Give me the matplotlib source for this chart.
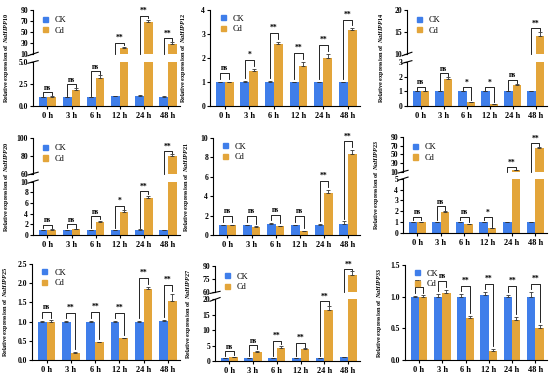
import numpy as np
import matplotlib.pyplot as plt
from matplotlib.patches import Patch

plt.rcParams["font.family"] = ["Liberation Serif", "DejaVu Serif"]
plt.rcParams["font.weight"] = "bold"
plt.rcParams["mathtext.fontset"] = "custom"
plt.rcParams["mathtext.it"] = "Liberation Serif:italic:bold"
plt.rcParams["mathtext.rm"] = "Liberation Serif:bold"

CK_COLOR = "#3F7EEA"
CD_COLOR = "#E3A53A"

times = ["0 h", "3 h", "6 h", "12 h", "24 h", "48 h"]

# ---- data ----
ck_10 = [1.0, 1.0, 1.0, 1.1, 1.15, 1.05]
ck_10_err = [0.03, 0.03, 0.03, 0.04, 0.08, 0.06]
cd_10 = [1.05, 1.8, 3.2, 21, 69, 29]
cd_10_err = [0.05, 0.2, 0.3, 2.5, 3.5, 2.5]
sig_10 = ["ns", "ns", "ns", "**", "**", "**"]

ck_12 = [1.0, 1.02, 1.0, 1.0, 1.0, 1.0]
ck_12_err = [0.02, 0.04, 0.03, 0.02, 0.02, 0.02]
cd_12 = [1.0, 1.45, 2.58, 1.68, 2.0, 3.17]
cd_12_err = [0.02, 0.1, 0.1, 0.16, 0.18, 0.07]
sig_12 = ["ns", "*", "**", "**", "**", "**"]

ck_14 = [1.0, 1.0, 1.0, 1.0, 1.0, 1.02]
ck_14_err = [0.02, 0.02, 0.03, 0.02, 0.02, 0.03]
cd_14 = [1.0, 1.85, 0.28, 0.15, 1.45, 14.2]
cd_14_err = [0.03, 0.12, 0.02, 0.02, 0.06, 0.8]
sig_14 = ["ns", "ns", "*", "*", "ns", "**"]

ck_20 = [0.95, 0.95, 0.95, 0.95, 1.0, 0.95]
ck_20_err = [0.03, 0.03, 0.03, 0.03, 0.03, 0.03]
cd_20 = [1.0, 1.05, 2.5, 4.3, 7.0, 80]
cd_20_err = [0.05, 0.05, 0.15, 0.3, 0.35, 1.5]
sig_20 = ["ns", "ns", "ns", "*", "**", "**"]

ck_21 = [1.0, 1.0, 1.1, 1.0, 1.05, 1.15]
ck_21_err = [0.03, 0.03, 0.1, 0.04, 0.06, 0.25]
cd_21 = [1.0, 0.85, 0.9, 0.4, 4.3, 8.4]
cd_21_err = [0.05, 0.03, 0.04, 0.03, 0.35, 0.35]
sig_21 = ["ns", "ns", "ns", "ns", "**", "**"]

ck_23 = [1.0, 1.0, 1.0, 1.0, 1.0, 1.0]
ck_23_err = [0.02, 0.02, 0.02, 0.02, 0.02, 0.02]
cd_23 = [1.0, 1.9, 0.85, 0.42, 13, 65]
cd_23_err = [0.03, 0.1, 0.02, 0.02, 0.8, 3.0]
sig_23 = ["ns", "ns", "ns", "*", "**", "**"]

ck_25 = [1.0, 1.0, 1.0, 1.0, 1.0, 1.02]
ck_25_err = [0.01, 0.01, 0.02, 0.01, 0.01, 0.02]
cd_25 = [1.0, 0.17, 0.47, 0.56, 1.85, 1.53]
cd_25_err = [0.03, 0.04, 0.01, 0.01, 0.06, 0.2]
sig_25 = ["ns", "**", "**", "**", "**", "**"]

ck_27 = [1.0, 1.0, 1.0, 1.0, 1.0, 1.3]
ck_27_err = [0.05, 0.05, 0.05, 0.05, 0.05, 0.1]
cd_27 = [1.2, 3.0, 4.3, 3.9, 16.5, 80]
cd_27_err = [0.1, 0.3, 0.5, 0.2, 1.2, 4.0]
sig_27 = ["ns", "ns", "**", "**", "**", "**"]

ck_33 = [1.0, 1.0, 1.0, 1.03, 0.99, 0.99]
ck_33_err = [0.01, 0.04, 0.04, 0.04, 0.04, 0.08]
cd_33 = [1.0, 1.06, 0.66, 0.15, 0.63, 0.51]
cd_33_err = [0.02, 0.05, 0.03, 0.02, 0.05, 0.05]
sig_33 = ["ns", "ns", "**", "**", "**", "**"]

# ---- layout (pixels) : left, right, top, bottom; broken axis settings ----
panels = [
    ("NaHIPP10", ck_10, ck_10_err, cd_10, cd_10_err, sig_10, (33, 180, 10, 106),
     dict(lower=(0, 5, [0, 2.5, 5], "%.1f"), upper=(10, 90, [10, 30, 50, 70, 90]), frac=0.5, gap=8)),
    ("NaHIPP12", ck_12, ck_12_err, cd_12, cd_12_err, sig_12, (210, 360, 10, 106),
     dict(lower=(0, 4, [0, 1, 2, 3, 4], "%d"))),
    ("NaHIPP14", ck_14, ck_14_err, cd_14, cd_14_err, sig_14, (407, 547, 10, 106),
     dict(lower=(0, 3, [0, 1, 2, 3], "%d"), upper=(10, 20, [10, 15, 20]), frac=0.5, gap=8)),
    ("NaHIPP20", ck_20, ck_20_err, cd_20, cd_20_err, sig_20, (33, 180, 138, 235),
     dict(lower=(0, 10, [0, 2, 4, 6, 8, 10], "%d"), upper=(60, 100, [60, 80, 100]), frac=0.6, gap=8)),
    ("NaHIPP21", ck_21, ck_21_err, cd_21, cd_21_err, sig_21, (213, 360, 138, 235),
     dict(lower=(0, 10, [0, 2, 4, 6, 8, 10], "%d"))),
    ("NaHIPP23", ck_23, ck_23_err, cd_23, cd_23_err, sig_23, (403, 547, 137, 233),
     dict(lower=(0, 5, [0, 1, 2, 3, 4, 5], "%d"), upper=(10, 90, [10, 30, 50, 70, 90]), frac=0.61, gap=7)),
    ("NaHIPP25", ck_25, ck_25_err, cd_25, cd_25_err, sig_25, (32, 180, 264, 360),
     dict(lower=(0, 2.5, [0, 0.5, 1.0, 1.5, 2.0, 2.5], "%.1f"))),
    ("NaHIPP27", ck_27, ck_27_err, cd_27, cd_27_err, sig_27, (215, 360, 266, 361),
     dict(lower=(0, 20, [0, 5, 10, 15, 20], "%d"), upper=(60, 90, [60, 75, 90]), frac=0.70, gap=7)),
    ("NaHIPP33", ck_33, ck_33_err, cd_33, cd_33_err, sig_33, (405, 547, 265, 360),
     dict(lower=(0, 1.5, [0, 0.5, 1.0, 1.5], "%.1f"))),
]

W, H = 550, 377
fig = plt.figure(figsize=(W / 100, H / 100), dpi=100)


def px_axes(l, r, t, b):
    return fig.add_axes([l / W, 1 - b / H, (r - l) / W, (b - t) / H])


def style(ax, ylim, ticks, fmt, bottom=True):
    ax.set_ylim(*ylim)
    ax.set_xlim(-0.6, 5.5)
    ax.set_yticks(ticks)
    ax.set_yticklabels([fmt % v for v in ticks], fontsize=5.5, fontweight="bold")
    for s in ["top", "right"]:
        ax.spines[s].set_visible(False)
    ax.spines["left"].set_linewidth(0.8)
    ax.spines["bottom"].set_linewidth(0.8)
    ax.tick_params(axis="y", length=2.5, width=0.8, pad=1)
    if bottom:
        ax.set_xticks(range(6))
        ax.set_xticklabels(times, fontsize=6, fontweight="bold")
        ax.tick_params(axis="x", length=2, width=0.8, pad=2)
    else:
        ax.spines["bottom"].set_visible(False)
        ax.set_xticks([])


def draw_bars(ax, ck, ck_err, cd, cd_err):
    x = np.arange(6)
    w = 0.36
    ax.bar(x - w / 2, ck, w, color=CK_COLOR, zorder=2)
    ax.bar(x + w / 2, cd, w, color=CD_COLOR, zorder=2)
    ax.errorbar(x - w / 2, ck, yerr=[np.zeros(6), ck_err], fmt="none",
                ecolor="#333333", elinewidth=0.6, capsize=1.3, capthick=0.6, zorder=3)
    ax.errorbar(x + w / 2, cd, yerr=[np.zeros(6), cd_err], fmt="none",
                ecolor="#333333", elinewidth=0.6, capsize=1.3, capthick=0.6, zorder=3)


def bracket(ax, i, ck_top, cd_top, label, rng, floor):
    w = 0.36
    top = max(ck_top, cd_top) + 0.09 * rng
    gap = 0.03 * rng
    xl, xr = i - w / 2, i + w / 2
    yl = max(ck_top + gap, floor)
    yr = max(cd_top + gap, floor)
    ax.plot([xl, xl, xr, xr], [yl, top, top, yr], color="black", lw=0.6,
            clip_on=False, zorder=4)
    ax.text(i, top + 0.01 * rng, label, ha="center", va="bottom",
            fontsize=5.5, fontweight="bold", clip_on=False)


for gene, ck, ck_err, cd, cd_err, sig, (l, r, t, b), spec in panels:
    ck_top = np.array(ck) + np.array(ck_err)
    cd_top = np.array(cd) + np.array(cd_err)
    lo = spec["lower"]
    if "upper" in spec:
        up = spec["upper"]
        gap = spec["gap"]
        usable = (b - t) - gap
        lower_h = usable * spec["frac"]
        ax_lo = px_axes(l, r, b - lower_h, b)
        ax_up = px_axes(l, r, t, b - lower_h - gap)
        style(ax_lo, lo[:2], lo[2], lo[3], bottom=True)
        style(ax_up, up[:2], up[2], "%d", bottom=False)
        draw_bars(ax_lo, ck, ck_err, cd, cd_err)
        draw_bars(ax_up, ck, ck_err, cd, cd_err)
        for i in range(6):
            if cd_top[i] > lo[1] * 1.05:
                bracket(ax_up, i, ck_top[i], cd_top[i], sig[i], up[1] - up[0], up[0])
            else:
                bracket(ax_lo, i, ck_top[i], cd_top[i], sig[i], lo[1] - lo[0], 0)
        # break marks on the y axis
        d = 0.035
        kw = dict(color="black", lw=0.8, clip_on=False)
        ax_lo.plot([-d, d], [1 - 0.03, 1 + 0.03], transform=ax_lo.transAxes, **kw)
        ax_up.plot([-d, d], [-0.04, 0.04], transform=ax_up.transAxes, **kw)
        leg_ax = ax_up
        lab_ax = ax_lo
        ylab_y = (b - (t + b) / 2) / lower_h
    else:
        ax = px_axes(l, r, t, b)
        style(ax, lo[:2], lo[2], lo[3], bottom=True)
        draw_bars(ax, ck, ck_err, cd, cd_err)
        for i in range(6):
            bracket(ax, i, ck_top[i], cd_top[i], sig[i], lo[1] - lo[0], 0)
        leg_ax = ax
        lab_ax = ax
        ylab_y = 0.5

    lab_ax.set_ylabel("Relative expression of  $\\mathit{%s}$" % gene,
                      fontsize=4.4, fontweight="bold", labelpad=2)
    lab_ax.yaxis.set_label_coords(-0.15, ylab_y)

    handles = [Patch(color=CK_COLOR, label="CK"), Patch(color=CD_COLOR, label="Cd")]
    leg_ax.legend(handles=handles, loc="upper left", bbox_to_anchor=(0.02, 1.03),
                  frameon=False, fontsize=6, handlelength=0.6, handleheight=0.6,
                  handletextpad=0.8, labelspacing=0.3, prop={"size": 6, "weight": "normal"})

fig.savefig("out.png", dpi=100)
